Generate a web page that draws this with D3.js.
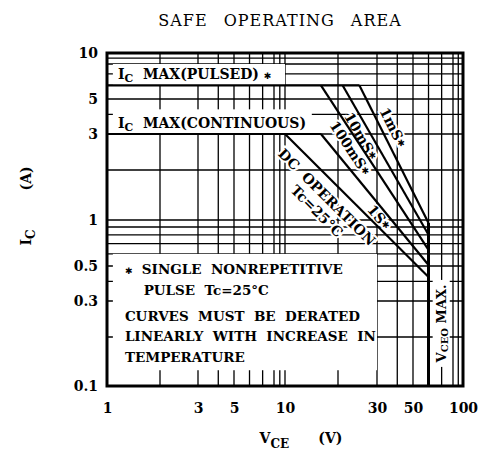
<!DOCTYPE html>
<html lang="en">
<head>
<meta charset="utf-8">
<title>Safe Operating Area</title>
<style>
  body { margin: 0; background: #fff; }
  svg text { font-family: "DejaVu Serif", serif; fill: #000; }
  .b { font-weight: bold; }
</style>
</head>
<body>
<div id="chart"></div>
<script src="https://d3js.org/d3.v7.min.js"></script>
<script>
// tick labels
var xTicks = [1, 3, 5, 10, 30, 50, 100];
var yTicks = [0.1, 0.3, 0.5, 1, 3, 5, 10];
// lines of the log paper
var xGrid = [1, 2, 3, 4, 5, 6, 7, 8, 9, 10, 20, 30, 40, 50, 60, 70, 80, 90, 100];
var yGrid = [0.1, 0.2, 0.3, 0.4, 0.5, 0.6, 0.7, 0.8, 0.9, 1, 2, 3, 4, 5, 6, 7, 8, 9, 10];

// limits (V, A)
var icPulsed = [[1, 6], [25, 6]];
var icCont = [[1, 3], [16, 3]];
var vceoMax = [[60, 0.956], [60, 0.1]];

// pulse / dc boundaries (V, A)
var soaNames = ['1ms', '10ms', '100ms', '1s', 'DC'];
var soaStart = [[25, 6], [21, 6], [16, 6], [16, 3], [10, 3]];
var soaEnd = [[60, 0.956], [60, 0.80], [60, 0.637], [60, 0.508], [60, 0.426]];

// labels along the boundaries: text, V, A, index of line
var lineLabels = [
  ['1mS*', 37.7, 3.3, 0],
  ['10mS*', 25.4, 2.93, 1],
  ['100mS*', 22.7, 2.56, 2],
  ['1S*', 30.9, 1.04, 3],
  ['DC  OPERATION', 17.3, 1.376, 4],
  ['Tc=25\u00b0C', 15.2, 1.133, 4]
];

// white areas behind the texts: V from, V to, A from, A to
var blankBoxes = [
  [1.08, 10, 6, 8],
  [1.08, 14.2, 3, 4.3],
  [1.08, 30, 0.125, 0.6],
  [63, 77, 0.131, 0.408]
];

var noteLines = [
  '*  SINGLE  NONREPETITIVE',
  '    PULSE  Tc=25\u00b0C',
  'CURVES  MUST  BE  DERATED',
  'LINEARLY  WITH  INCREASE  IN',
  'TEMPERATURE'
];

var margin = {left: 107, top: 53};
var W = 356, H = 333;

// the printed log paper is not exactly even, so the scales are pinned at several decades
var x = d3.scaleLog()
  .domain([1, 2, 3, 5, 8, 10, 20, 30, 50, 80, 100])
  .range([0, 53, 91, 127, 167, 178, 231, 270, 306, 346, 356]);
var y = d3.scaleLog()
  .domain([10, 8, 5, 3, 2, 1, 0.5, 0.3, 0.2, 0.1])
  .range([0, 11, 46, 81, 117, 167, 213, 248, 284, 333]);

// writes a label, drawing "*" as a heavy centred star like the datasheet
function starText(sel, str) {
  str.split('*').forEach(function(part, i) {
    if (i > 0) sel.append('tspan').style('font-size', '9px').style('font-family', '"DejaVu Sans"').text('\u2731');
    if (part) sel.append('tspan').text(part);
  });
}

var svg = d3.select('#chart').append('svg')
  .attr('width', 484)
  .attr('height', 457);

svg.append('text')
  .attr('x', 280)
  .attr('y', 26)
  .attr('text-anchor', 'middle')
  .style('font-size', '16px')
  .style('letter-spacing', '1px')
  .style('word-spacing', '10px')
  .text('SAFE OPERATING AREA');

var g = svg.append('g')
  .attr('transform', 'translate(' + margin.left + ',' + margin.top + ')');

// grid
g.selectAll('.vgrid').data(xGrid).enter().append('line')
  .attr('x1', function(d) { return x(d); })
  .attr('x2', function(d) { return x(d); })
  .attr('y1', 0).attr('y2', H)
  .attr('stroke', '#000').attr('stroke-width', 1.3);
g.selectAll('.hgrid').data(yGrid).enter().append('line')
  .attr('y1', function(d) { return y(d); })
  .attr('y2', function(d) { return y(d); })
  .attr('x1', 0).attr('x2', W)
  .attr('stroke', '#000').attr('stroke-width', 1.3);

// blank out the grid under the texts
g.selectAll('.blank').data(blankBoxes).enter().append('rect')
  .attr('x', function(d) { return x(d[0]); })
  .attr('width', function(d) { return x(d[1]) - x(d[0]); })
  .attr('y', function(d) { return y(d[3]); })
  .attr('height', function(d) { return y(d[2]) - y(d[3]); })
  .attr('fill', '#fff');

// labels along the lines, with a white halo over the grid
lineLabels.forEach(function(l) {
  var s = soaStart[l[3]], e = soaEnd[l[3]];
  var ang = Math.atan2(y(e[1]) - y(s[1]), x(e[0]) - x(s[0])) * 180 / Math.PI;
  var t = g.append('text')
    .attr('class', 'b')
    .attr('transform', 'translate(' + x(l[1]) + ',' + y(l[2]) + ') rotate(' + ang + ')')
    .attr('text-anchor', 'middle')
    .attr('dominant-baseline', 'central')
    .style('font-size', '14px')
    .style('white-space', 'pre')
    .attr('stroke', '#fff').attr('stroke-width', 4)
    .attr('paint-order', 'stroke');
  starText(t, l[0]);
});

var line = d3.line()
  .x(function(d) { return x(d[0]); })
  .y(function(d) { return y(d[1]); });

[icPulsed, icCont].forEach(function(p) {
  g.append('path').attr('d', line(p))
    .attr('fill', 'none').attr('stroke', '#000').attr('stroke-width', 2.2);
});
soaNames.forEach(function(n, i) {
  g.append('path').attr('d', line([soaStart[i], soaEnd[i]]))
    .attr('class', 'soa-' + n)
    .attr('fill', 'none').attr('stroke', '#000').attr('stroke-width', 2.2);
});
g.append('path').attr('d', line(vceoMax))
  .attr('fill', 'none').attr('stroke', '#000').attr('stroke-width', 3);

// texts in the blank boxes
var pb = blankBoxes[0];
var t1 = g.append('text').attr('class', 'b')
  .attr('x', x(pb[0]) + 5).attr('y', y(pb[2]) - 6)
  .style('font-size', '14px').style('white-space', 'pre');
t1.append('tspan').text('I');
t1.append('tspan').attr('dy', 3).style('font-size', '11px').text('C');
t1.append('tspan').attr('dy', -3).text('  MAX(PULSED) ');
starText(t1, '*');

var cb = blankBoxes[1];
var t2 = g.append('text').attr('class', 'b')
  .attr('x', x(cb[0]) + 5).attr('y', y(cb[2]) - 6)
  .style('font-size', '14px').style('white-space', 'pre');
t2.append('tspan').text('I');
t2.append('tspan').attr('dy', 3).style('font-size', '11px').text('C');
t2.append('tspan').attr('dy', -3).text('  MAX(CONTINUOUS)');

var nb = blankBoxes[2];
var noteY = [20, 41, 67, 87, 108];
noteLines.forEach(function(t, i) {
  var nt = g.append('text').attr('class', 'b')
    .attr('x', x(nb[0]) + 12)
    .attr('y', y(nb[3]) + noteY[i])
    .style('font-size', '13.5px').style('white-space', 'pre');
  starText(nt, t);
});

var vb = blankBoxes[3];
var t3 = g.append('text').attr('class', 'b')
  .attr('transform', 'translate(' + (x(vb[0]) + x(vb[1])) / 2 + ',' + (y(vb[2]) + y(vb[3])) / 2 + ') rotate(-90)')
  .attr('text-anchor', 'middle')
  .attr('dominant-baseline', 'central')
  .style('font-size', '13px');
t3.append('tspan').text('V');
t3.append('tspan').attr('dy', 3).style('font-size', '10px').text('CEO');
t3.append('tspan').attr('dy', -3).text(' MAX.');

// frame
g.append('rect')
  .attr('width', W).attr('height', H)
  .attr('fill', 'none').attr('stroke', '#000').attr('stroke-width', 3);

// axes
var xAxis = g.append('g')
  .attr('transform', 'translate(0,' + H + ')')
  .call(d3.axisBottom(x).tickValues(xTicks).tickSize(0).tickPadding(17).tickFormat(function(d) { return d; }));
var yAxis = g.append('g')
  .call(d3.axisLeft(y).tickValues(yTicks).tickSize(0).tickPadding(9).tickFormat(function(d) { return d; }));
[xAxis, yAxis].forEach(function(a) {
  a.select('.domain').remove();
  a.selectAll('text')
    .attr('class', 'b')
    .style('font-family', '"DejaVu Serif", serif')
    .style('font-size', '14px')
    .attr('fill', '#000');
});

// axis titles
var xt = svg.append('text').attr('class', 'b')
  .attr('x', 301).attr('y', 443)
  .attr('text-anchor', 'middle')
  .style('font-size', '14px').style('white-space', 'pre');
xt.append('tspan').text('V');
xt.append('tspan').attr('dy', 5).style('font-size', '12px').text('CE');
xt.append('tspan').attr('dy', -5).text('      (V)');

var yt = svg.append('text').attr('class', 'b')
  .attr('transform', 'translate(31,206) rotate(-90)')
  .attr('text-anchor', 'middle')
  .style('font-size', '14px').style('white-space', 'pre');
yt.append('tspan').text('I');
yt.append('tspan').attr('dy', 4).style('font-size', '12px').text('C');
yt.append('tspan').attr('dy', -4).text('        (A)');
</script>
</body>
</html>
